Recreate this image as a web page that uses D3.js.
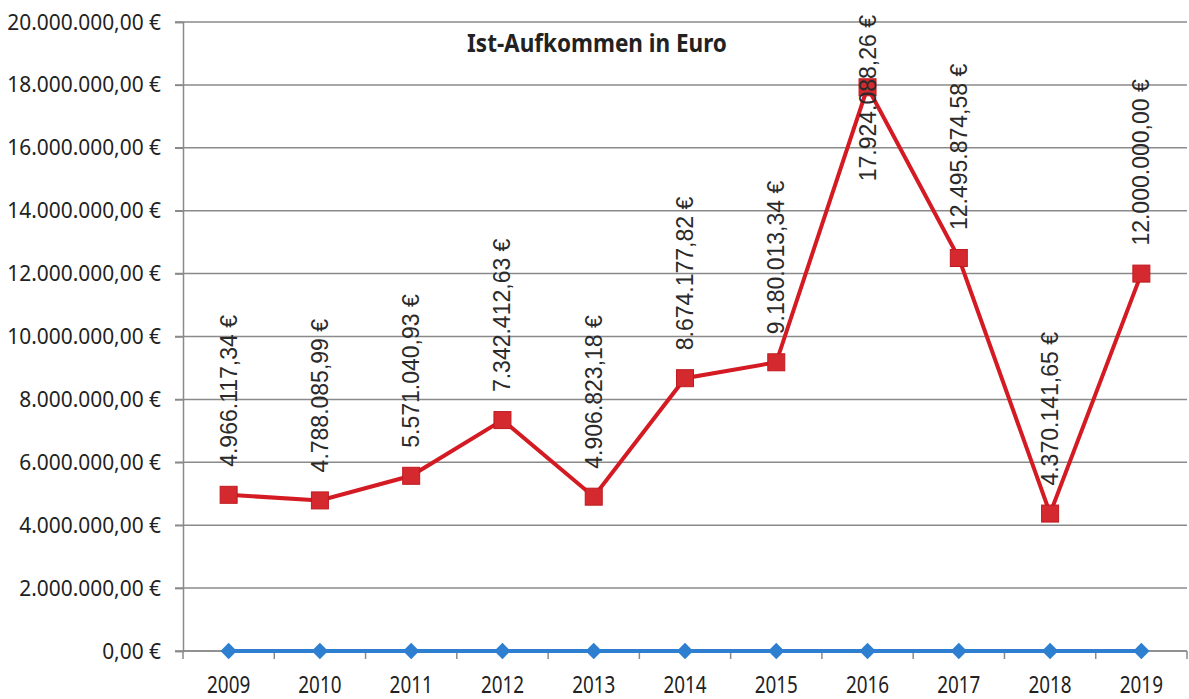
<!DOCTYPE html>
<meta charset="utf-8">
<html>
<head>
    <title>Ist-Aufkommen in Euro</title>
    <script src="https://cdn.jsdelivr.net/npm/d3@7"></script>
</head>
<style>
    body{
        margin: 0;
        background: #fff;
    }
    svg{
        width: 1189px;
        height: 699px;
        display: block;
    }
    .axisText{
        font-family: "Noto Sans", sans-serif;
        font-size: 22px;
        fill: #222;
    }
    .yearText{
        font-family: "Noto Sans", sans-serif;
        font-size: 23px;
        fill: #222;
    }
    .title{
        font-family: "Noto Sans", sans-serif;
        font-size: 25px;
        font-weight: bold;
        fill: #222;
    }
    .dataLabel{
        font-family: "Liberation Sans", Arial, sans-serif;
        font-size: 23px;
        fill: #2a2a2a;
    }
</style>
<body>
<svg></svg>
<script>
    // data
    const years = ["2009","2010","2011","2012","2013","2014","2015","2016","2017","2018","2019"];
    const istAufkommen = [4966117.34, 4788085.99, 5571040.93, 7342412.63, 4906823.18, 8674177.82,
        9180013.34, 17924088.26, 12495874.58, 4370141.65, 12000000.00];
    const zweiteReihe = [0, 0, 0, 0, 0, 0, 0, 0, 0, 0, 0];
    const yTicks = [0, 2000000, 4000000, 6000000, 8000000, 10000000, 12000000, 14000000, 16000000, 18000000, 20000000];

    const svg = d3.select("svg");
    const plotLeft = 183, plotRight = 1187, plotTop = 22, plotBottom = 651;

    const euro = d3.formatLocale({decimal: ",", thousands: ".", grouping: [3], currency: ["", " €"]}).format(",.2f");

    // narrow the glyphs a bit (the original uses a condensed office font)
    const squeeze = (sel, f) => sel.each(function () {
        const len = this.getComputedTextLength();
        d3.select(this).attr("textLength", len * f).attr("lengthAdjust", "spacingAndGlyphs");
    });

    const x = d3.scaleBand().domain(years).range([plotLeft, plotRight]);
    const y = d3.scaleLinear().domain([0, 20000000]).range([plotBottom, plotTop]);

    // gridlines
    svg.append("g")
        .selectAll("line")
        .data(yTicks)
        .join("line")
        .attr("x1", plotLeft - 8)
        .attr("x2", plotRight)
        .attr("y1", d => y(d))
        .attr("y2", d => y(d))
        .attr("stroke", "#8a8a8a")
        .attr("stroke-width", 1.5);

    // y axis
    const yAxis = svg.append("g")
        .attr("transform", `translate(${plotLeft},0)`)
        .call(d3.axisLeft(y).tickValues(yTicks).tickSize(8).tickPadding(14).tickFormat(d => euro(d) + " €"));
    yAxis.attr("font-family", null).attr("font-size", null);
    yAxis.select(".domain").attr("stroke", "#8a8a8a").attr("stroke-width", 1.5);
    yAxis.selectAll(".tick line").attr("stroke", "#8a8a8a").attr("stroke-width", 1.5);
    yAxis.selectAll("text").attr("class", "axisText").call(squeeze, 0.95);

    // x axis, tick marks between categories
    const xAxis = svg.append("g")
        .attr("transform", `translate(0,${plotBottom})`);
    xAxis.append("line")
        .attr("x1", plotLeft).attr("x2", plotRight)
        .attr("stroke", "#8a8a8a").attr("stroke-width", 1.5);
    xAxis.selectAll(".sep")
        .data(years.concat(["end"]))
        .join("line")
        .attr("x1", (d, i) => i < years.length ? x(d) : plotRight)
        .attr("x2", (d, i) => i < years.length ? x(d) : plotRight)
        .attr("y1", 0).attr("y2", 8)
        .attr("stroke", "#8a8a8a").attr("stroke-width", 1.5);
    xAxis.selectAll("text")
        .data(years)
        .join("text")
        .attr("class", "yearText")
        .attr("x", d => x(d) + x.bandwidth() / 2)
        .attr("y", 42)
        .attr("text-anchor", "middle")
        .text(d => d)
        .call(squeeze, 0.82);

    const cx = d => x(d) + x.bandwidth() / 2;
    const line = d3.line().x(d => cx(d[0])).y(d => y(d[1]));

    // blue series at zero
    const blue = d3.zip(years, zweiteReihe);
    svg.append("path")
        .datum(blue)
        .attr("d", line)
        .attr("fill", "none")
        .attr("stroke", "#2f7fd1")
        .attr("stroke-width", 4);
    svg.append("g")
        .selectAll("path")
        .data(blue)
        .join("path")
        .attr("d", d3.symbol(d3.symbolDiamond2, 170))
        .attr("transform", d => `translate(${cx(d[0])},${y(d[1])})`)
        .attr("fill", "#2f7fd1");

    // red series
    const red = d3.zip(years, istAufkommen);
    svg.append("path")
        .datum(red)
        .attr("d", line)
        .attr("fill", "none")
        .attr("stroke", "#d41a22")
        .attr("stroke-width", 4);
    svg.append("g")
        .selectAll("rect")
        .data(red)
        .join("rect")
        .attr("x", d => cx(d[0]) - 8.5)
        .attr("y", d => y(d[1]) - 8.5)
        .attr("width", 17)
        .attr("height", 17)
        .attr("fill", "#d42a2f")
        .attr("stroke", "#c01a20")
        .attr("stroke-width", 1);

    // data labels, rotated, kept inside the chart
    const labels = svg.append("g")
        .selectAll("text")
        .data(red)
        .join("text")
        .attr("class", "dataLabel")
        .text(d => euro(d[1]) + " €");
    labels.each(function (d) {
        const len = this.getComputedTextLength();
        let start = y(d[1]) - 28;
        if (start - len < 15) start = 15 + len;
        d3.select(this).attr("transform", `translate(${cx(d[0]) + 8},${start}) rotate(-90)`);
    });

    // title
    svg.append("text")
        .attr("class", "title")
        .attr("x", 597)
        .attr("y", 52)
        .attr("text-anchor", "middle")
        .text("Ist-Aufkommen in Euro")
        .call(squeeze, 0.9);
</script>
</body>
</html>
